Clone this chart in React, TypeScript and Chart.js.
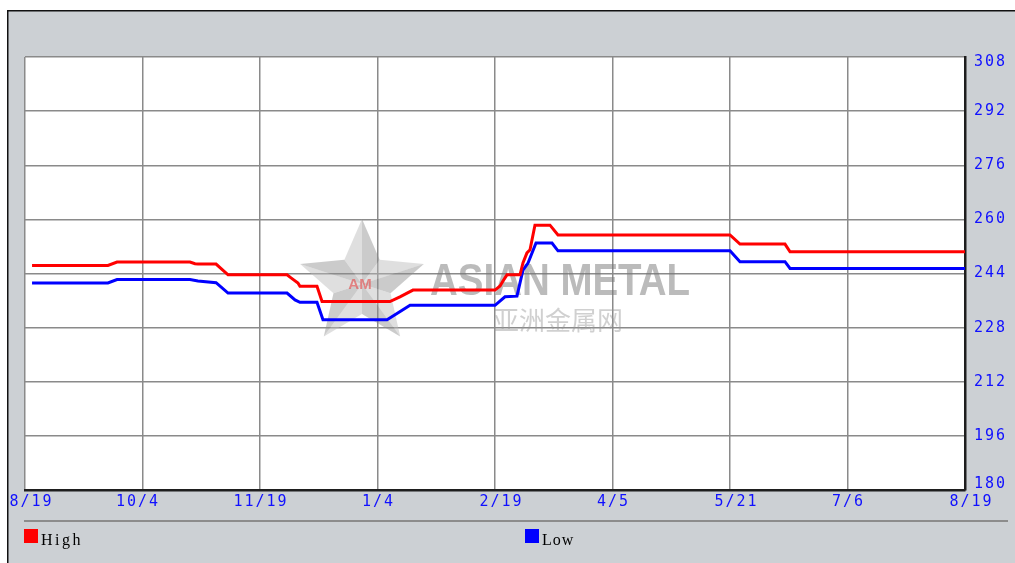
import React, { useEffect, useRef } from "react";
import { Chart, registerables } from "chart.js";

Chart.register(...registerables);

// Tick labels along the x axis (equally spaced)
const tickLabels = ["8/19", "10/4", "11/19", "1/4", "2/19", "4/5", "5/21", "7/6", "8/19"];

// Y axis range
const yMin = 180;
const yMax = 308;
const yStep = 16;

// Series: positions along the x axis (in tick intervals) and values
const highX = [0.06, 0.706, 0.783, 1.404, 1.447, 1.472, 1.626, 1.728, 2.23, 2.264, 2.323, 2.34, 2.485, 2.528, 3.106, 3.191, 3.302, 4.0, 4.043, 4.068, 4.102, 4.213, 4.238, 4.272, 4.298, 4.34, 4.468, 4.536, 6.0, 6.085, 6.468, 6.511, 8.0];
const highY = [246.4, 246.4, 247.4, 247.4, 246.9, 246.8, 246.8, 243.6, 243.6, 242.7, 241.2, 240.2, 240.2, 235.7, 235.7, 237.1, 239.1, 239.1, 240.3, 241.8, 243.6, 243.6, 247.1, 250.1, 251.0, 258.3, 258.3, 255.4, 255.4, 252.7, 252.7, 250.4, 250.4];

const lowX = [0.06, 0.706, 0.783, 1.404, 1.472, 1.626, 1.728, 2.23, 2.298, 2.34, 2.485, 2.536, 3.081, 3.149, 3.277, 4.0, 4.085, 4.187, 4.238, 4.281, 4.349, 4.485, 4.536, 6.0, 6.085, 6.468, 6.511, 8.0];
const lowY = [241.2, 241.2, 242.2, 242.2, 241.8, 241.3, 238.2, 238.2, 236.2, 235.5, 235.5, 230.3, 230.3, 231.8, 234.6, 234.6, 237.1, 237.3, 245.0, 247.1, 253.0, 253.0, 250.7, 250.7, 247.5, 247.5, 245.5, 245.5];

const seriesNames = ["High", "Low"];
const seriesColors = ["#ff0000", "#0000ff"];

const W = 1015;
const H = 563;

const bgPlugin = {
  id: "bg",
  beforeDraw(chart: any) {
    const ctx = chart.ctx;
    const a = chart.chartArea;
    ctx.save();
    ctx.fillStyle = "#ffffff";
    ctx.fillRect(0, 0, W, H);
    ctx.fillStyle = "#ccd0d4";
    ctx.fillRect(8, 11, W - 8, H - 11);
    ctx.fillStyle = "#111111";
    ctx.fillRect(7, 10, 1.5, H - 10);
    ctx.fillRect(7, 10, W - 7, 1.5);
    ctx.fillStyle = "#ffffff";
    ctx.fillRect(a.left, a.top, a.right - a.left, a.bottom - a.top);
    ctx.restore();
  },
};

const watermarkPlugin = {
  id: "watermark",
  beforeDatasetsDraw(chart: any) {
    const ctx = chart.ctx;
    ctx.save();
    // star
    const cx = 362;
    const cy = 284;
    const R = 65;
    const r = 30;
    const pts: [number, number][] = [];
    for (let i = 0; i < 10; i++) {
      const ang = -Math.PI / 2 + (i * Math.PI) / 5;
      const rad = i % 2 === 0 ? R : r;
      pts.push([cx + rad * Math.cos(ang), cy + rad * Math.sin(ang)]);
    }
    for (let i = 0; i < 10; i++) {
      const p1 = pts[i];
      const p2 = pts[(i + 1) % 10];
      ctx.beginPath();
      ctx.moveTo(cx, cy);
      ctx.lineTo(p1[0], p1[1]);
      ctx.lineTo(p2[0], p2[1]);
      ctx.closePath();
      ctx.fillStyle = i % 2 === 0 ? "rgba(140,140,140,0.45)" : "rgba(185,185,185,0.45)";
      ctx.fill();
    }
    ctx.font = "bold 15px 'Liberation Sans'";
    ctx.fillStyle = "rgba(225,90,90,0.7)";
    ctx.textAlign = "center";
    ctx.textBaseline = "middle";
    ctx.fillText("AM", cx - 2, cy + 1);

    // text
    ctx.textAlign = "left";
    ctx.textBaseline = "alphabetic";
    ctx.font = "bold 44px 'Liberation Sans'";
    const t = "ASIAN METAL";
    const tw = ctx.measureText(t).width;
    ctx.translate(430, 295);
    ctx.scale(260 / tw, 1);
    ctx.fillStyle = "rgba(120,120,120,0.5)";
    ctx.fillText(t, 0, 0);
    ctx.setTransform(1, 0, 0, 1, 0, 0);
    ctx.font = "26px 'Noto Sans CJK SC'";
    ctx.fillStyle = "rgba(150,150,150,0.45)";
    ctx.fillText("亚洲金属网", 493, 330);
    ctx.restore();
  },
};

const labelPlugin = {
  id: "labels",
  afterDraw(chart: any) {
    const ctx = chart.ctx;
    const xs = chart.scales.x;
    const ys = chart.scales.y;
    const a = chart.chartArea;
    ctx.save();
    ctx.font = "15px 'DejaVu Sans Mono'";
    (ctx as any).letterSpacing = "2px";
    ctx.fillStyle = "#1010ff";
    ctx.textBaseline = "middle";
    ctx.textAlign = "left";
    xs.ticks.forEach((t: any, i: number) => {
      const label = tickLabels[i];
      if (!label) return;
      const px = xs.getPixelForValue(t.value);
      const s = label.indexOf("/");
      const pre = ctx.measureText(label.slice(0, s)).width;
      const sw = ctx.measureText("/").width - 2;
      ctx.fillText(label, px - pre - sw / 2, 502);
    });
    ys.ticks.forEach((t: any) => {
      let py = ys.getPixelForValue(t.value);
      py = Math.max(a.top + 5, Math.min(a.bottom - 6, py));
      ctx.fillText(String(t.value), 974, py);
    });

    // legend
    (ctx as any).letterSpacing = "0px";
    ctx.fillStyle = "#8c8c8c";
    ctx.fillRect(24, 520, 984, 2);
    const legendX = [24, 525];
    chart.data.datasets.forEach((ds: any, i: number) => {
      const x = legendX[i];
      ctx.fillStyle = ds.borderColor;
      ctx.fillRect(x, 529, 14, 14);
      ctx.fillStyle = "#000000";
      ctx.font = "16px 'Liberation Serif'";
      (ctx as any).letterSpacing = i === 0 ? "2.5px" : "1px";
      ctx.textBaseline = "alphabetic";
      ctx.fillText(ds.label, x + 17, 545);
    });
    ctx.restore();
  },
};

export default function App() {
  const ref = useRef<HTMLCanvasElement | null>(null);
  useEffect(() => {
    if (!ref.current) return;
    const grid = { color: "#8a8a8a", lineWidth: 1.5, drawTicks: false };
    const chart = new Chart(ref.current, {
      type: "line",
      data: {
        datasets: [
          {
            label: seriesNames[0],
            data: highX.map((x, i) => ({ x, y: highY[i] })),
            borderColor: seriesColors[0],
            backgroundColor: seriesColors[0],
            borderWidth: 3,
            pointRadius: 0,
            tension: 0,
            fill: false,
          },
          {
            label: seriesNames[1],
            data: lowX.map((x, i) => ({ x, y: lowY[i] })),
            borderColor: seriesColors[1],
            backgroundColor: seriesColors[1],
            borderWidth: 3,
            pointRadius: 0,
            tension: 0,
            fill: false,
          },
        ],
      },
      options: {
        animation: false,
        responsive: false,
        maintainAspectRatio: false,
        layout: { padding: { left: 25, top: 57, right: 50, bottom: 73 } },
        plugins: { legend: { display: false }, tooltip: { enabled: false } },
        scales: {
          x: {
            type: "linear",
            min: 0,
            max: tickLabels.length - 1,
            ticks: { stepSize: 1, display: false },
            grid,
            border: { display: true, color: "#1e1e1e", width: 2.5 },
            afterFit: (s: any) => {
              s.height = 0;
            },
          },
          y: {
            position: "right",
            min: yMin,
            max: yMax,
            ticks: { stepSize: yStep, display: false },
            grid,
            border: { display: true, color: "#1e1e1e", width: 2.5 },
            afterFit: (s: any) => {
              s.width = 0;
            },
          },
        },
      } as any,
      plugins: [bgPlugin, watermarkPlugin, labelPlugin],
    });
    return () => chart.destroy();
  }, []);
  return (
    <div style={{ position: "fixed", left: 0, top: 0, width: W, height: H }}>
      <canvas ref={ref} width={W} height={H} style={{ width: W, height: H, display: "block" }} />
    </div>
  );
}
